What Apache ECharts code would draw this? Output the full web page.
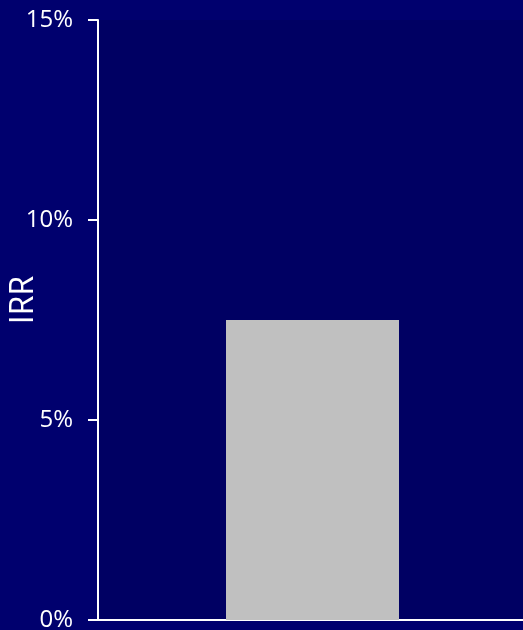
<!DOCTYPE html>
<html>
<head>
<meta charset="utf-8">
<script src="https://cdn.jsdelivr.net/npm/echarts@6/dist/echarts.min.js"></script>
<style>
html,body{margin:0;padding:0;background:#00006e;}
#chart{width:523px;height:630px;}
</style>
</head>
<body>
<div id="chart"></div>
<script>
const categories = [''];
const irrValues = [7.5];
const yTicks = { min: 0, max: 15, interval: 5 };

const chart = echarts.init(document.getElementById('chart'), null, { renderer: 'canvas' });
chart.setOption({
  backgroundColor: '#00006e',
  animation: false,
  grid: { left: 98, right: -4, top: 20, bottom: 10, containLabel: false, outerBoundsMode: 'none', show: true, backgroundColor: '#000063', borderWidth: 0 },
  xAxis: {
    type: 'category',
    data: categories,
    axisLine: { show: true, lineStyle: { color: '#ffffff', width: 2 } },
    axisTick: { show: false },
    axisLabel: { show: false },
    splitLine: { show: false }
  },
  yAxis: {
    type: 'value',
    min: yTicks.min, max: yTicks.max, interval: yTicks.interval,
    name: 'IRR',
    nameLocation: 'middle',
    nameGap: 58,
    nameMoveOverlap: false,
    nameRotate: 90,
    nameTextStyle: { color: '#ffffff', fontSize: 32, fontFamily: 'Open Sans', padding: [0, 0, 0, 40] },
    axisLine: { show: true, lineStyle: { color: '#ffffff', width: 2 } },
    axisTick: { show: true, length: 10, lineStyle: { color: '#ffffff', width: 2 } },
    axisLabel: { color: '#ffffff', fontSize: 24, fontFamily: 'Open Sans', margin: 25, padding: [4, 0, 0, 0], formatter: '{value}%' },
    splitLine: { show: false }
  },
  series: [{
    type: 'bar',
    data: irrValues,
    barWidth: 173,
    itemStyle: { color: '#c0c0c0' }
  }]
});
</script>
</body>
</html>
